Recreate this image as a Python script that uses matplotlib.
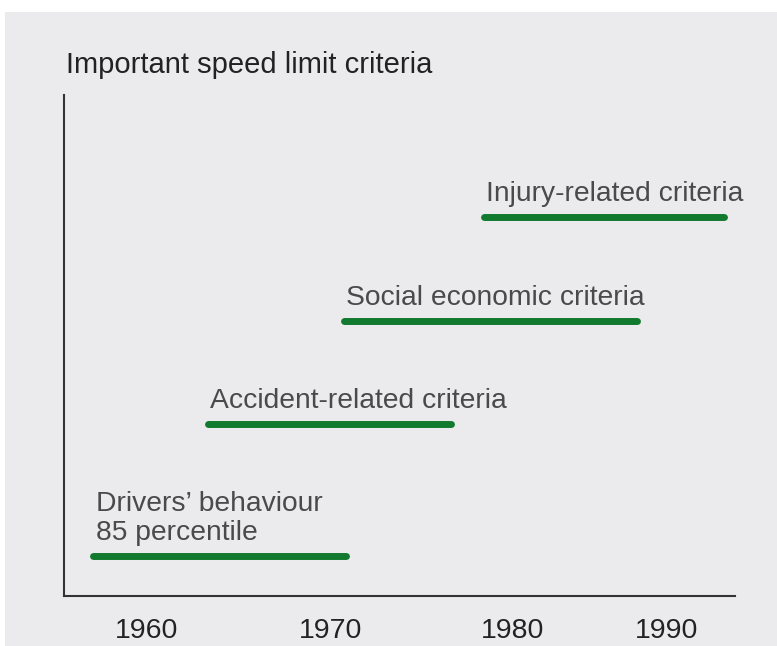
import numpy as np
import matplotlib
matplotlib.use("Agg")
import matplotlib.pyplot as plt
from matplotlib.patches import Rectangle

# ---- data ----
title = "Important speed limit criteria"
labels = ["Drivers\u2019 behaviour\n85 percentile",
          "Accident-related criteria",
          "Social economic criteria",
          "Injury-related criteria"]
start_year = [1957.1, 1963.3, 1970.7, 1978.4]
end_year = [1970.8, 1976.6, 1988.1, 1993.8]
tick_years = [1960, 1970, 1980, 1990]
tick_labels = ["1960", "1970", "1980", "1990"]

# ---- layout / style ----
W, H = 777, 646
green = "#127a2e"
label_color = "#4a4a4a"
dark = "#222222"
fam = ["Liberation Sans", "DejaVu Sans"]

# the original's time axis is not evenly spaced between its ticks
tick_spacing_px = [147, 331, 513, 666]
slope_lo = (tick_spacing_px[1] - tick_spacing_px[0]) / 10
slope_hi = (tick_spacing_px[3] - tick_spacing_px[2]) / 10
kx = [1900] + tick_years + [2050]
kp = [tick_spacing_px[0] - 60 * slope_lo] + tick_spacing_px + [tick_spacing_px[-1] + 60 * slope_hi]

def fwd(x):
    return np.interp(x, kx, kp)

def inv(p):
    return np.interp(p, kp, kx)

fig = plt.figure(figsize=(W / 100, H / 100), dpi=100)
fig.patch.set_facecolor("white")
bg = Rectangle((5 / W, -0.05), 1.05 - 5 / W, 1.05 - 12 / H,
               transform=fig.transFigure, facecolor="#ebebed",
               edgecolor="none", zorder=-10)
fig.patches.append(bg)

ax = fig.add_axes([64 / W, 1 - 596 / H, (735 - 64) / W, (596 - 95) / H])
ax.set_facecolor("none")
ax.set_zorder(5)
ax.set_xscale("function", functions=(fwd, inv))

# row positions derived from how many text lines each label occupies
lines = [lab.count("\n") + 1 for lab in labels]
gap = 2.63
rows = [0.0]
for n in lines[:-1]:
    rows.append(rows[-1] + n + gap)

for y, s, e, lab in zip(rows, start_year, end_year, labels):
    ax.plot([s, e], [y, y], color=green, lw=5.0, solid_capstyle="round")
    ax.annotate(lab, xy=(s, y), xytext=(1.5, 11.5), textcoords="offset points",
                ha="left", va="baseline", fontsize=20.3, color=label_color,
                family=fam, linespacing=1.15)

ax.set_xlim(1955.5, 1994.5)
ax.set_ylim(-1.40, 16.18)
ax.set_xticks(tick_years)
ax.set_xticklabels(tick_labels, fontsize=20.5, color=dark, family=fam)
ax.set_yticks([])
ax.tick_params(axis="x", length=0, pad=16)
for side in ["top", "right"]:
    ax.spines[side].set_visible(False)
for side in ["left", "bottom"]:
    ax.spines[side].set_color("#333333")
    ax.spines[side].set_linewidth(1.5)

fig.text(66 / W, 1 - 73 / H, title, ha="left", va="baseline",
         fontsize=21, color=dark, family=fam)

fig.savefig("out.png", dpi=100, facecolor=fig.get_facecolor())
